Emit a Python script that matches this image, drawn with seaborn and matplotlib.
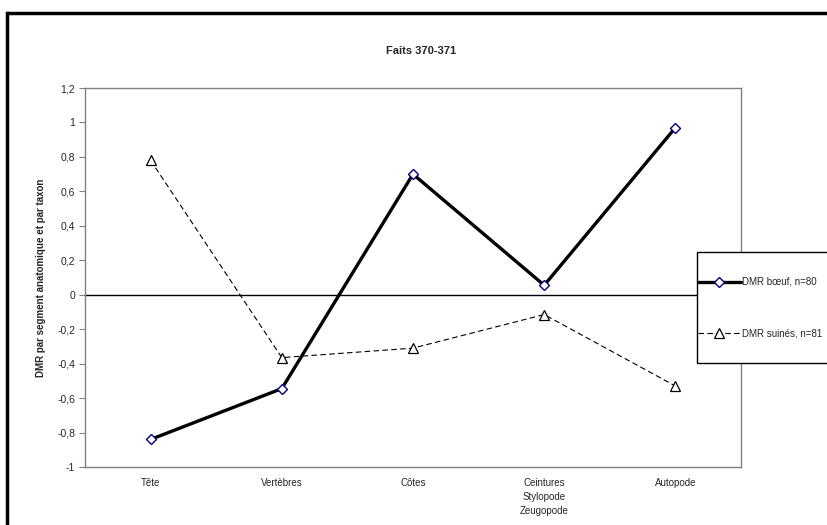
import numpy as np
import pandas as pd
import matplotlib
matplotlib.use("Agg")
import matplotlib.pyplot as plt
import seaborn as sns
from matplotlib.patches import Rectangle
from matplotlib.lines import Line2D

# données
categories = ["Tête", "Vertèbres", "Côtes", "Ceintures\nStylopode\nZeugopode", "Autopode"]
dmr_boeuf = [-0.84, -0.545, 0.70, 0.055, 0.97]
dmr_suines = [0.78, -0.365, -0.31, -0.115, -0.53]
labels = ["DMR bœuf, n=80", "DMR suinés, n=81"]
yticks = [-1, -0.8, -0.6, -0.4, -0.2, 0, 0.2, 0.4, 0.6, 0.8, 1, 1.2]


def fmt(v):
    s = "%g" % round(v, 2)
    return s.replace(".", ",")


def plot_faits():
    sns.set_style("white")
    plt.rcParams["font.family"] = ["Liberation Sans", "DejaVu Sans"]

    fig = plt.figure(figsize=(8.28, 5.25), dpi=100, facecolor="white")
    fig.patch.set_linewidth(0)
    fig.patch.set_edgecolor("white")
    ax = fig.add_axes([85 / 828, 58 / 525, 656 / 828, 379 / 525])

    x = np.arange(len(categories))
    df = pd.DataFrame({"x": x, "boeuf": dmr_boeuf, "suines": dmr_suines})

    sns.lineplot(data=df, x="x", y="boeuf", ax=ax, color="black", linewidth=2.4,
                 marker="D", markersize=5, markerfacecolor="white",
                 markeredgecolor="#000080", markeredgewidth=1, label=labels[0], zorder=3)
    sns.lineplot(data=df, x="x", y="suines", ax=ax, color="black", linewidth=0.8,
                 dashes=False, linestyle=(0, (5, 3)), marker="^", markersize=6.5,
                 markerfacecolor="white", markeredgecolor="black",
                 markeredgewidth=0.9, label=labels[1], zorder=3)

    ax.axhline(0, color="black", linewidth=1, zorder=2)

    ax.set_xlim(-0.5, len(categories) - 0.5)
    ax.set_ylim(-1, 1.2)
    ax.set_xticks(x)
    ax.set_xticklabels(categories, fontsize=7, linespacing=1.5)
    ax.set_yticks(yticks)
    ax.set_yticklabels([fmt(v) for v in yticks], fontsize=7.5)
    ax.tick_params(axis="x", length=0, pad=8)
    ax.tick_params(axis="y", length=4, width=0.8, color="#808080", pad=3, left=True)
    ax.set_xlabel("")
    ax.set_ylabel("DMR par segment anatomique et par taxon", fontsize=7,
                  fontweight="bold", labelpad=8)
    for s in ax.spines.values():
        s.set_color("#808080")
        s.set_linewidth(1)

    fig.text(421 / 828, 1 - 51 / 525, "Faits 370-371", ha="center", va="center",
             fontsize=8, fontweight="bold")

    # cadre extérieur (seuls les bords gauche et haut sont visibles)
    top = 1 - 13 / 525
    left = 7 / 828
    fig.add_artist(Line2D([left, left], [0, top], transform=fig.transFigure,
                          color="black", linewidth=2.5, solid_capstyle="projecting"))
    fig.add_artist(Line2D([left, 1.0], [top, top], transform=fig.transFigure,
                          color="black", linewidth=2.5, solid_capstyle="butt"))
    # cadre de la légende
    fig.patches.append(Rectangle((697 / 828, 1 - 363 / 525), 0.3, 111 / 525,
                                 transform=fig.transFigure, facecolor="white",
                                 edgecolor="black", linewidth=1, zorder=5))

    ax.get_legend().remove()
    h, l = ax.get_legend_handles_labels()
    leg = fig.legend(h, l, loc="upper left",
                     bbox_to_anchor=(698 / 828, 1 - 277 / 525),
                     frameon=False, fontsize=7, handlelength=4.4,
                     handletextpad=0.15, labelspacing=4.3, borderpad=0,
                     borderaxespad=0)
    leg.set_zorder(6)

    fig.savefig("out.png", dpi=100, facecolor="white", edgecolor="none")


if __name__ == "__main__":
    plot_faits()
